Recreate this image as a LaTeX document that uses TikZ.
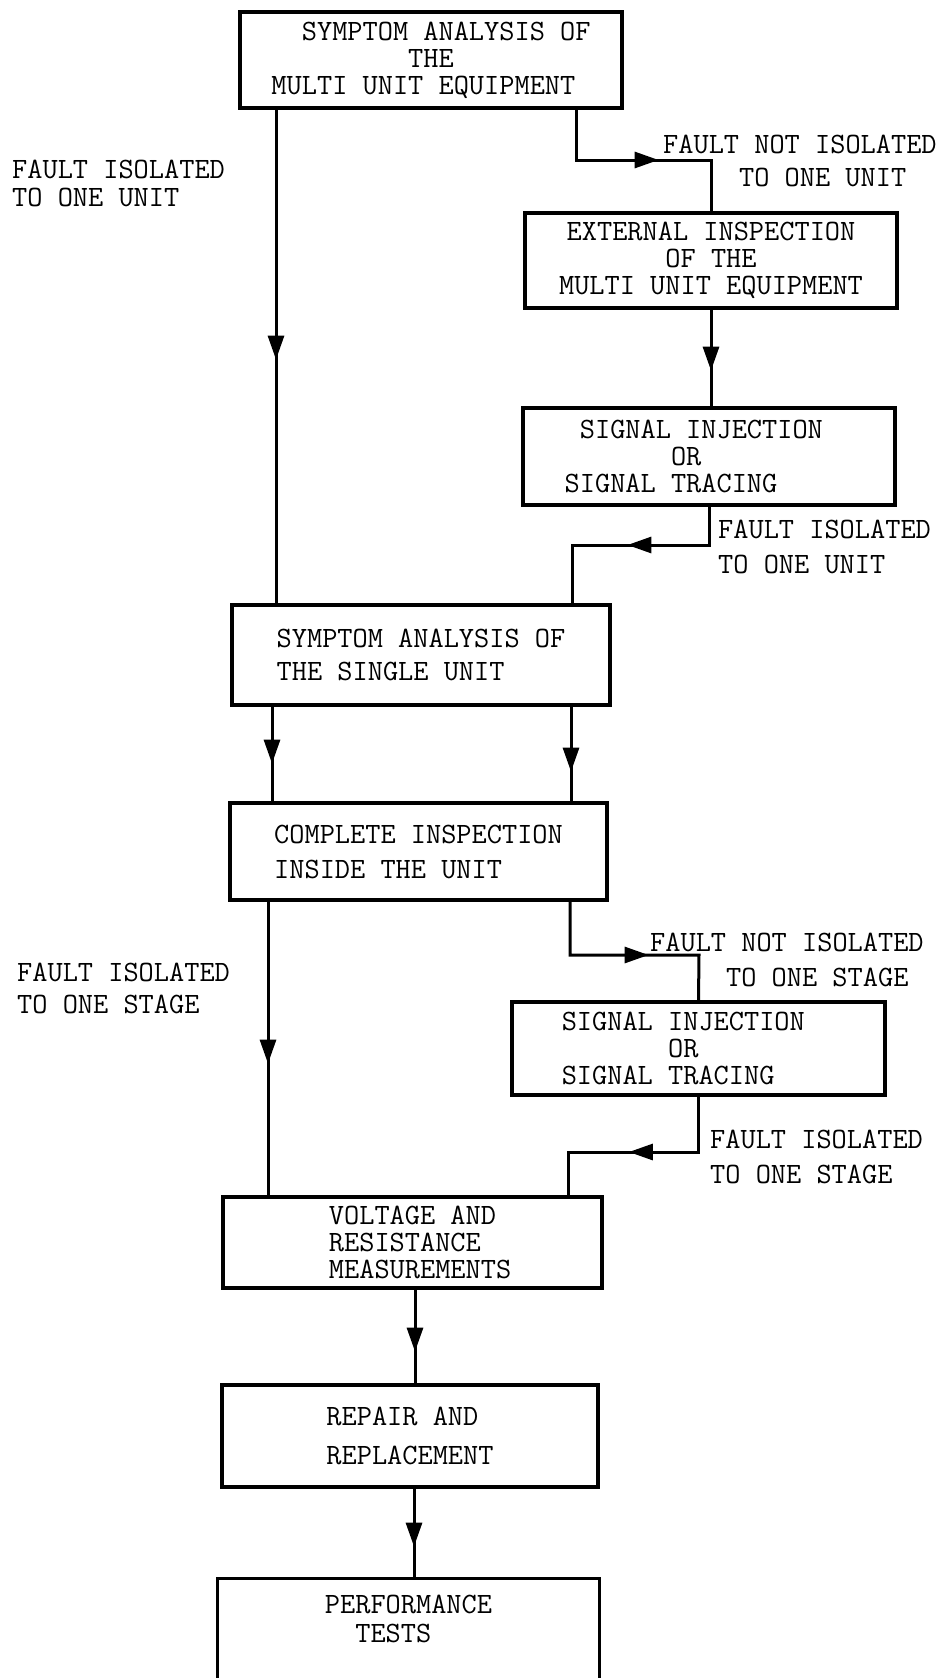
\documentclass[tikz,border=0pt]{standalone}
\usetikzlibrary{arrows.meta,decorations.markings}

\tikzset{
  flowbox/.style={draw, line width=3.2pt, inner sep=0pt, align=left},
  flowlabel/.style={inner sep=0pt, align=left, anchor=north west},
  arrowat/.style={line width=3pt, postaction={decorate},
    decoration={markings, mark=at position #1 with {\arrow{Triangle[length=24pt,width=16pt]}}}},
}

\begin{document}
\begin{tikzpicture}[x=1pt, y=-1pt, font=\fontsize{29.5}{27}\selectfont\ttfamily]
    \useasboundingbox (0,0) rectangle (947,1678);

    % boxes
    \node[flowbox, minimum width=382pt, minimum height=96pt] (symmulti) at (431,60)
        {\hphantom{MM}SYMPTOM ANALYSIS OF\\ \hphantom{MULTI UNI}THE\\ MULTI UNIT EQUIPMENT};
    \node[flowbox, align=center, minimum width=372pt, minimum height=95pt] (extinsp) at (711,260.5)
        {EXTERNAL INSPECTION\\ OF THE\\ MULTI UNIT EQUIPMENT};
    \node[flowbox, minimum width=372pt, minimum height=97pt] (siginjA) at (709,456.5)
        {\hphantom{S}SIGNAL INJECTION\hphantom{SS}\\ \hphantom{SIGNALX}OR\\ SIGNAL TRACING};
    \node[flowbox, minimum width=378pt, minimum height=100pt] (symsingle) at (421,655)
        {SYMPTOM ANALYSIS OF\\[6pt] THE SINGLE UNIT};
    \node[flowbox, minimum width=377pt, minimum height=97pt] (compinsp) at (418.5,851.5)
        {COMPLETE INSPECTION\\[8pt] INSIDE THE UNIT};
    \node[flowbox, minimum width=373pt, minimum height=93pt] (siginjB) at (698.5,1048.5)
        {SIGNAL INJECTION\hphantom{SS}\\ \hphantom{SIGNALX}OR\\ SIGNAL TRACING};
    \node[flowbox, minimum width=379pt, minimum height=91pt] (voltres) at (412.5,1242.5)
        {\hphantom{M}VOLTAGE AND\\ \hphantom{M}RESISTANCE\\ \hphantom{M}MEASUREMENTS};
    \node[flowbox, minimum width=376pt, minimum height=102pt] (repair) at (410,1436)
        {REPAIR AND\\[12pt] REPLACEMENT};
    \node[flowbox, draw=none, minimum width=379pt, minimum height=77pt] (perftest) at (408.5,1618.5)
        {PERFORMANCE\\[2pt] \hphantom{PE}TESTS};
    \draw[line width=3.2pt] (perftest.south west |- 0,1678) -- (perftest.north west)
        -- (perftest.north east) -- (perftest.south east |- 0,1678);

    % labels
    \node[flowlabel] (notunitA) at (663,135) {FAULT NOT ISOLATED\\[6pt] \hphantom{FAULT}TO ONE UNIT};
    \node[flowlabel] (isounitA) at (12,160) {FAULT ISOLATED\\[1pt] TO ONE UNIT};
    \node[flowlabel] (isounitB) at (718,520) {FAULT ISOLATED\\[8pt] TO ONE UNIT};
    \node[flowlabel] (notstageA) at (650,933) {FAULT NOT ISOLATED\\[8pt] \hphantom{FAULT}TO ONE STAGE};
    \node[flowlabel] (isostageA) at (17,963) {FAULT ISOLATED\\[5pt] TO ONE STAGE};
    \node[flowlabel] (isostageB) at (710,1130) {FAULT ISOLATED\\[8pt] TO ONE STAGE};

    % connectors
    \draw[arrowat=250pt] (symmulti.south -| 276,0) -- (symsingle.north -| 276,0);
    \draw[arrowat=133pt] (symmulti.south -| 576,0) -- (576,160) -| (extinsp.north);
    \draw[arrowat=61pt] (extinsp.south) -- (extinsp.south |- siginjA.north);
    \draw[arrowat=120pt] (siginjA.south) |- (572,545) -- (symsingle.north -| 572,0);
    \draw[arrowat=57pt] (symsingle.south -| 272,0) -- (compinsp.north -| 272,0);
    \draw[arrowat=65pt] (symsingle.south -| 571,0) -- (compinsp.north -| 571,0);
    \draw[arrowat=162pt] (compinsp.south -| 268,0) -- (voltres.north -| 268,0);
    \draw[arrowat=132pt] (compinsp.south -| 570,0) |- (699,955) -- (siginjB.north);
    \draw[arrowat=125pt] (siginjB.south) |- (568,1152) -- (voltres.north -| 568,0);
    \draw[arrowat=62pt] (voltres.south -| 415,0) -- (repair.north -| 415,0);
    \draw[arrowat=58pt] (repair.south -| 414,0) -- (perftest.north -| 414,0);
\end{tikzpicture}
\end{document}
